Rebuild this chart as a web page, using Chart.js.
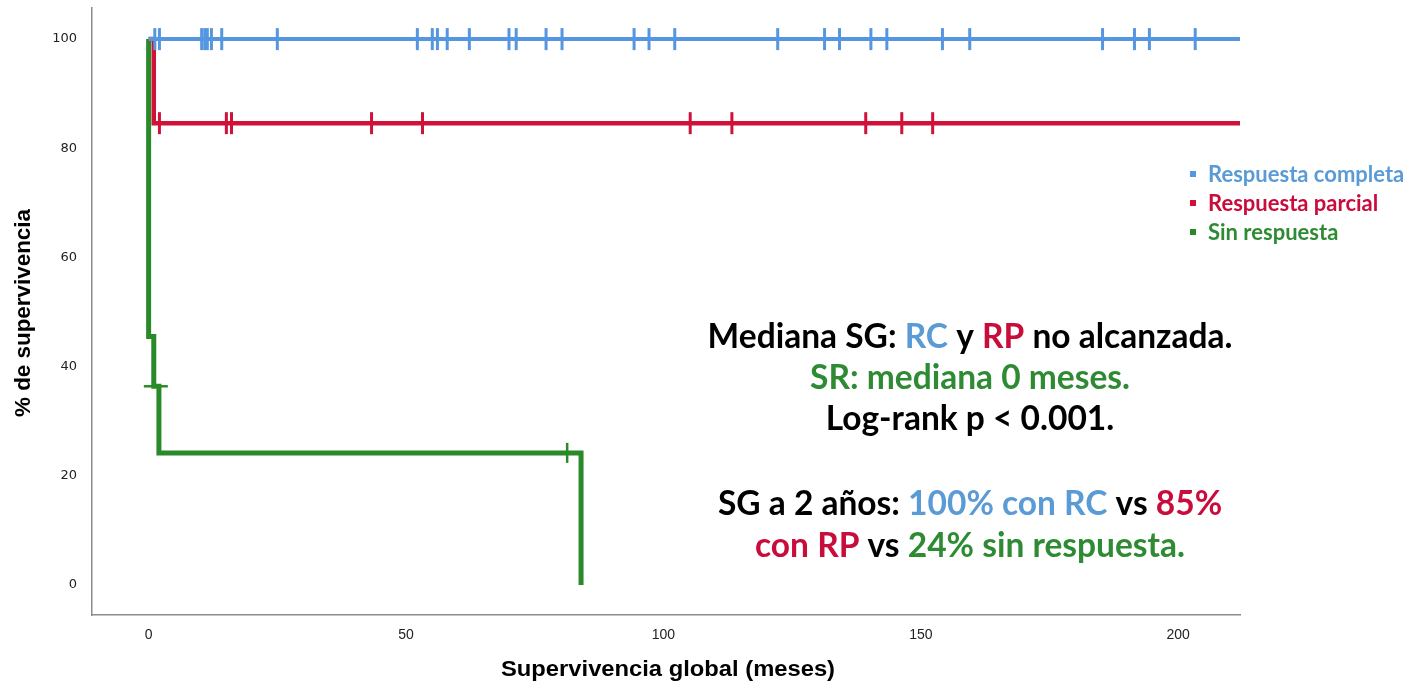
<!DOCTYPE html>
<html>
<head>
<meta charset="utf-8">
<title>Supervivencia global</title>
<script src="https://cdn.jsdelivr.net/npm/chart.js@4.4.1/dist/chart.umd.min.js"></script>
<style>
  html, body { margin: 0; padding: 0; background: #ffffff; }
  #wrap { position: relative; width: 1424px; height: 687px; }
</style>
</head>
<body>
<div id="wrap"><canvas id="kmChart"></canvas></div>
<script>
// ===== DATA =====
const groupLabels = ['Respuesta completa', 'Respuesta parcial', 'Sin respuesta'];

// Kaplan-Meier steps: time (months) and % survival after each step
const rcTimes = [0, 212];
const rcSurv = [100, 100];
const rpTimes = [0, 1, 212];
const rpSurv = [100, 84.6, 84.6];
const srTimes = [0, 0, 1, 2, 84];
const srSurv = [100, 45.5, 36.4, 24.2, 0];

// censored cases (months)
const rcCensored = [1.2, 2.1, 10.3, 10.9, 11.4, 12.2, 14.2, 25, 52.2, 55.1, 56.1, 58, 62.3, 70, 71.4,
    77.2, 80.3, 94.3, 97.2, 102.2, 122.2, 131.3, 134.2, 140.3, 143.4, 154.2, 159.5, 185.3, 191.5, 194.4, 203.3];
const rpCensored = [2.1, 15.1, 16.1, 43.3, 53.2, 105.2, 113.3, 139.3, 146.3, 152.3];
const srCensored = [1.4, 81.3];

const xTicks = [0, 50, 100, 150, 200];
const yTicks = [0, 20, 40, 60, 80, 100];

const xTitle = 'Supervivencia global (meses)';
const yTitle = '% de supervivencia';

// ===== COLOURS =====
const lineColors = ['#5596e0', '#d0123a', '#2a8a2a'];
const textColors = { k: '#000000', b: '#5b9bd5', r: '#c80c3c', g: '#2e8b34' };

// annotation text, split in coloured runs
const noteLines = [
    [['Mediana SG: ', 'k'], ['RC', 'b'], [' y ', 'k'], ['RP', 'r'], [' no alcanzada.', 'k']],
    [['SR: mediana 0 meses.', 'g']],
    [['Log-rank p < 0.001.', 'k']],
    [['SG a 2 años: ', 'k'], ['100% con RC', 'b'], [' vs ', 'k'], ['85%', 'r']],
    [['con RP', 'r'], [' vs ', 'k'], ['24% sin respuesta.', 'g']]
];
const noteBaselines = [348, 389, 430, 515, 557];

// ===== HELPERS =====
function toPoints(xs, ys) {
    return xs.map((x, i) => ({ x: x, y: ys[i] }));
}

// survival value of a step curve at time t
function survAt(times, surv, t) {
    let s = surv[0];
    for (let i = 0; i < times.length; i++) {
        if (times[i] <= t) s = surv[i];
    }
    return s;
}

function censorPoints(times, surv, cens) {
    return cens.map(t => ({ x: t, y: survAt(times, surv, t) }));
}

// condensed bold text: squeeze a normal face to a target width
function drawNarrow(ctx, text, x, y, width, angle) {
    ctx.save();
    ctx.translate(x, y);
    ctx.rotate(angle);
    const w = ctx.measureText(text).width;
    ctx.scale(width / w, 1);
    ctx.fillText(text, 0, 0);
    ctx.restore();
}

// ===== OVERLAY PLUGIN (titles, legend, notes) =====
const overlayPlugin = {
    id: 'overlay',
    afterDraw(chart) {
        const ctx = chart.ctx;
        ctx.save();

        // axis titles
        ctx.fillStyle = '#000000';
        ctx.font = 'bold 22px "Liberation Sans"';
        ctx.textAlign = 'center';
        ctx.textBaseline = 'alphabetic';
        drawNarrow(ctx, xTitle, 668, 676, 334, 0);
        drawNarrow(ctx, yTitle, 30, 313, 208, -Math.PI / 2);

        // legend
        ctx.font = 'bold 22px Lato';
        ctx.textAlign = 'left';
        groupLabels.forEach((label, i) => {
            const base = 182 + i * 29;
            ctx.fillStyle = lineColors[i];
            ctx.fillRect(1190, base - 11, 6, 6);
            ctx.fillStyle = [textColors.b, textColors.r, textColors.g][i];
            ctx.fillText(label, 1208, base);
        });

        // notes
        ctx.font = 'bold 33.5px Lato';
        noteLines.forEach((parts, i) => {
            const total = parts.reduce((w, p) => w + ctx.measureText(p[0]).width, 0);
            let x = 970 - total / 2;
            parts.forEach(p => {
                ctx.fillStyle = textColors[p[1]];
                ctx.fillText(p[0], x, noteBaselines[i]);
                x += ctx.measureText(p[0]).width;
            });
        });
        ctx.restore();
    }
};

// ===== CHART =====
function initializeKmChart() {
    const ctx = document.getElementById('kmChart');

    const censorStyle = {
        showLine: false,
        pointStyle: 'line',
        rotation: 90,
        pointRadius: 11,
        pointHoverRadius: 11,
        pointBorderWidth: 3
    };

    new Chart(ctx, {
        type: 'scatter',
        data: {
            datasets: [
                {
                    label: groupLabels[0],
                    data: toPoints(rcTimes, rcSurv),
                    showLine: true,
                    stepped: true,
                    borderColor: lineColors[0],
                    borderWidth: 4,
                    pointRadius: 0
                },
                Object.assign({
                    label: groupLabels[0] + ' (censurado)',
                    data: censorPoints(rcTimes, rcSurv, rcCensored),
                    borderColor: lineColors[0],
                    backgroundColor: lineColors[0]
                }, censorStyle),
                {
                    label: groupLabels[1],
                    data: toPoints(rpTimes, rpSurv),
                    showLine: true,
                    stepped: true,
                    borderColor: lineColors[1],
                    borderWidth: 4.5,
                    pointRadius: 0
                },
                Object.assign({
                    label: groupLabels[1] + ' (censurado)',
                    data: censorPoints(rpTimes, rpSurv, rpCensored),
                    borderColor: lineColors[1],
                    backgroundColor: lineColors[1]
                }, censorStyle),
                {
                    label: groupLabels[2],
                    data: toPoints(srTimes, srSurv),
                    showLine: true,
                    stepped: true,
                    borderColor: lineColors[2],
                    borderWidth: 5,
                    pointRadius: 0
                },
                Object.assign({}, censorStyle, {
                    label: groupLabels[2] + ' (censurado)',
                    data: censorPoints(srTimes, srSurv, srCensored),
                    borderColor: lineColors[2],
                    backgroundColor: lineColors[2],
                    rotation: c => c.dataIndex === 0 ? 0 : 90,
                    pointRadius: c => c.dataIndex === 0 ? 12 : 10,
                    pointBorderWidth: 2.5
                })
            ]
        },
        options: {
            responsive: true,
            maintainAspectRatio: false,
            animation: false,
            events: [],
            layout: {
                autoPadding: false,
                padding: { left: 0, top: 8, right: 184, bottom: 0 }
            },
            plugins: {
                legend: { display: false },
                tooltip: { enabled: false }
            },
            scales: {
                x: {
                    type: 'linear',
                    min: -11,
                    max: 212,
                    afterBuildTicks: s => { s.ticks = xTicks.map(v => ({ value: v })); },
                    afterFit: s => { s.height = 72; s.paddingLeft = 0; s.paddingRight = 0; },
                    grid: { display: false, drawTicks: false },
                    border: { display: true, color: '#8c8c8c', width: 1.5 },
                    ticks: {
                        padding: 12,
                        color: '#222222',
                        font: { family: 'Liberation Sans', size: 14 }
                    }
                },
                y: {
                    min: -5.5,
                    max: 105.7,
                    afterBuildTicks: s => { s.ticks = yTicks.map(v => ({ value: v })); },
                    afterFit: s => { s.width = 92; s.paddingTop = 0; s.paddingBottom = 0; },
                    grid: { display: false, drawTicks: false },
                    border: { display: true, color: '#8c8c8c', width: 1.5 },
                    ticks: {
                        padding: 15,
                        color: '#222222',
                        font: { family: 'DejaVu Sans', size: 13 }
                    }
                }
            }
        },
        plugins: [overlayPlugin]
    });
}

document.addEventListener('DOMContentLoaded', function() {
    initializeKmChart();
});
</script>
</body>
</html>
